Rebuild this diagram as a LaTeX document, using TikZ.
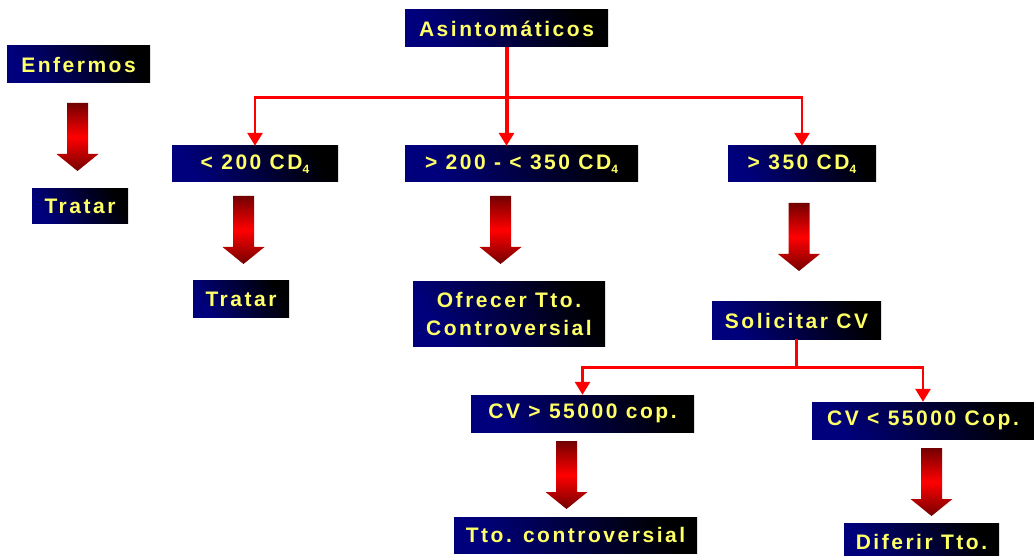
\documentclass[tikz,border=0pt]{standalone}
\usepackage{fontspec}
\setmainfont{Liberation Sans}[LetterSpace=12]
\usetikzlibrary{arrows.meta}

\definecolor{boxnavy}{RGB}{0,0,125}
\definecolor{boxtext}{RGB}{255,255,102}
\definecolor{darkred}{RGB}{115,0,0}

\newcommand{\cdsub}{CD\raisebox{-4.5pt}{\fontsize{12}{12}\selectfont 4}}
\newcommand{\fatarrow}[1]{\shade[fatarrow] #1 ++(-10.5,0) -- ++(21,0) -- ++(0,51) -- ++(10.5,0) -- ++(-21,17) -- ++(-21,-17) -- ++(10.5,0) -- cycle;}

\begin{document}
\begin{tikzpicture}[x=1pt,y=-1pt,
	box/.style={bottom color=boxnavy, top color=black, shading angle=-60, text=boxtext,
		font=\fontsize{21}{28}\selectfont\bfseries, inner sep=0pt, align=center},
	link/.style={draw=red, line width=2.8pt, -{Triangle[width=15pt,length=13pt]}},
	fatarrow/.style={top color=darkred, bottom color=darkred, middle color=red}]
	\useasboundingbox (0,0) rectangle (1034,556);

	% boxes
	\node[box, minimum width=203pt, minimum height=37pt] (asin) at (506.5,28.5) {Asintomáticos};
	\node[box, minimum width=143pt, minimum height=37pt] (enf) at (78.5,64.5) {Enfermos};
	\node[box, minimum width=96pt, minimum height=35pt] (trat1) at (80,206.5) {Tratar};
	\node[box, minimum width=166pt, minimum height=36pt] (lt200) at (255,164) {< 200 \cdsub};
	\node[box, minimum width=233pt, minimum height=36pt] (mid) at (521.5,164) {> 200 - < 350 \cdsub};
	\node[box, minimum width=148pt, minimum height=36pt] (gt350) at (802,164) {> 350 \cdsub};
	\node[box, minimum width=96pt, minimum height=36pt] (trat2) at (241,299) {Tratar};
	\node[box, minimum width=192pt, minimum height=64pt] (ofr) at (509,314) {Ofrecer Tto.\\Controversial};
	\node[box, minimum width=169pt, minimum height=37pt] (sol) at (796.5,320.5) {Solicitar CV};
	\node[box, minimum width=223pt, minimum height=37pt] (cvgt) at (582.5,413.5) {CV > 55000 cop.};
	\node[box, minimum width=222pt, minimum height=37pt] (cvlt) at (923,420.5) {CV < 55000 Cop.};
	\node[box, minimum width=243pt, minimum height=36pt] (ttoc) at (575.5,535) {Tto. controversial};
	\node[box, minimum width=155pt, minimum height=37pt] (dif) at (921.5,542) {Diferir Tto.};

	% thin red links
	\draw[red, line width=4pt] (asin.south) -- ++(0,50) coordinate (split);
	\draw[red, line width=2.8pt] (lt200.north |- split) -- (gt350.north |- split);
	\draw[link] (split) -| (lt200.north);
	\draw[link] (split) -| (gt350.north);
	\draw[link, line width=4pt] (split) -- (split |- mid.north);

	\draw[red, line width=2.8pt] (sol.south) -- ++(0,28) coordinate (split2);
	\draw[link] (split2) -| (cvgt.north);
	\draw[link] (split2) -| (cvlt.north);

	% fat arrows
	\coordinate (f1) at (77.5,103);
	\coordinate (f2) at (243.5,196);
	\coordinate (f3) at (500.5,196);
	\coordinate (f4) at (799,203);
	\coordinate (f5) at (566.5,441);
	\coordinate (f6) at (931.5,448);
	\fatarrow{(f1)}
	\fatarrow{(f2)}
	\fatarrow{(f3)}
	\fatarrow{(f4)}
	\fatarrow{(f5)}
	\fatarrow{(f6)}
\end{tikzpicture}
\end{document}
